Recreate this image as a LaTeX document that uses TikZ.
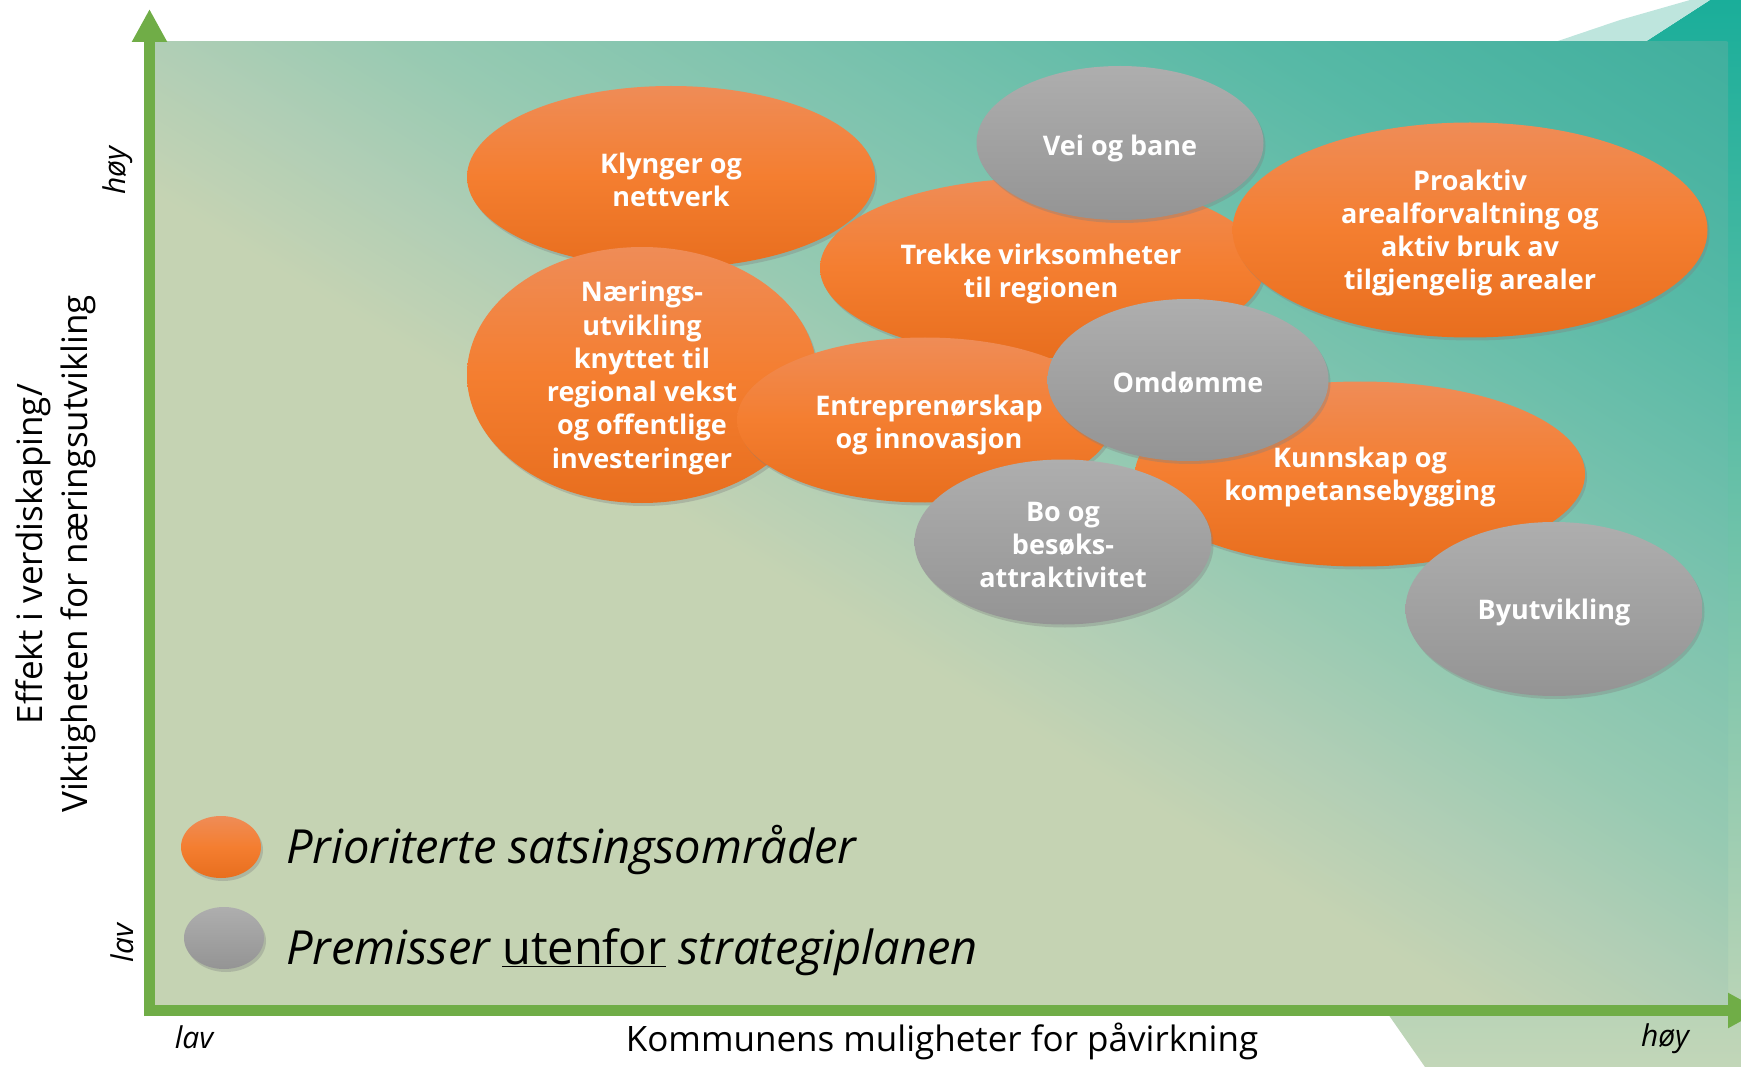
\documentclass[tikz,border=0pt]{standalone}
\usepackage{fontspec}
\setmainfont{Open Sans}
\usetikzlibrary{shapes.geometric,shadows,arrows.meta}

\definecolor{axisgreen}{HTML}{70AD47}
\definecolor{planeA}{HTML}{C5D3B3}
\definecolor{planeB}{HTML}{B0CEB5}
\definecolor{planeC}{HTML}{97CAB2}
\definecolor{planeD}{HTML}{7CC3AE}
\definecolor{planeE}{HTML}{57B9A6}
\definecolor{planeF}{HTML}{40AF9E}
\definecolor{orTop}{HTML}{EF8C57}
\definecolor{orMid}{HTML}{F47E30}
\definecolor{orBot}{HTML}{E86E1E}
\definecolor{grTop}{HTML}{AEAEAE}
\definecolor{grBot}{HTML}{949494}
\definecolor{edgeTeal}{HTML}{1AAE9A}
\definecolor{edgeLight}{HTML}{C2D6B8}
\definecolor{splash}{HTML}{BEE5DD}

\pgfdeclarehorizontalshading{plane}{100bp}{color(0bp)=(planeA); color(46bp)=(planeA); color(50bp)=(planeB); color(54bp)=(planeC); color(60bp)=(planeD); color(67.5bp)=(planeE); color(75bp)=(planeF); color(100bp)=(planeF)}

\begin{document}
\begin{tikzpicture}[x=1pt,y=-1pt]
\tikzstyle{every node}=[inner sep=0pt]
\tikzstyle{blob}=[ellipse, drop shadow={shadow xshift=2pt, shadow yshift=-3pt, opacity=.35}]
\tikzstyle{prio}=[blob, top color=orTop, bottom color=orBot, middle color=orMid]
\tikzstyle{prem}=[blob, top color=grTop, bottom color=grBot]
\tikzstyle{lbl}=[text=white, align=center, yshift=-3pt, font=\bfseries\fontsize{27}{33.3}\selectfont]
\tikzstyle{axis}=[line width=11pt, draw=axisgreen, -{Triangle[width=33pt,length=33pt]}]
\tikzstyle{tick}=[font=\itshape\fontsize{30}{36}\selectfont]
\tikzstyle{axislabel}=[font=\fontsize{35}{45}\selectfont, align=center]
\tikzstyle{legend}=[font=\itshape\fontsize{47}{56}\selectfont, anchor=west]
\useasboundingbox (0,0) rectangle (1741,1067);

% backdrop at the right edge
\shade[top color=edgeTeal, bottom color=edgeLight] (1710,0) -- (1741,0) -- (1741,1067) -- (1425,1067) -- (1388,1014) -- (1645,42) -- cycle;
\fill[splash] (1555,42) -- (1620,20) -- (1690,0) -- (1710,0) -- (1645,42) -- cycle;

% plane, shaded across its diagonal
\begin{scope}
\clip (155,42) rectangle (1728,1005);
\begin{scope}[transform canvas={rotate around={58.5:(941.5,523.5)}}]
\shade[shading=plane] (120,-500) rectangle (1763,1547);
\end{scope}
\end{scope}

% axes
\draw[axis] (149.5,1016) -- (149.5,9);
\draw[axis] (144,1010.5) -- (1761,1010.5);

% areas
\node[prio, minimum width=408pt, minimum height=182pt] (klynger) at (671,177) {};
\node[lbl] (klyngertxt) at (klynger) {Klynger og\\nettverk};
\node[prio, minimum width=350pt, minimum height=256pt] (naering) at (642,375) {};
\node[lbl] (naeringtxt) at (naering) {Nærings-\\utvikling\\knyttet til\\regional vekst\\og offentlige\\investeringer};
\node[prio, minimum width=444pt, minimum height=180pt] (trekke) at (1042,268) {};
\node[lbl] (trekketxt) at (1041,271) {Trekke virksomheter\\til regionen};
\node[prio, minimum width=376pt, minimum height=165pt] (entre) at (925,420) {};
\node[lbl] (entretxt) at (929,422) {Entreprenørskap\\og innovasjon};
\node[prio, minimum width=475pt, minimum height=215pt] (proaktiv) at (1470,230) {};
\node[lbl] (proaktivtxt) at (proaktiv) {Proaktiv\\arealforvaltning og\\aktiv bruk av\\tilgjengelig arealer};
\node[prio, minimum width=450pt, minimum height=185pt] (kunnskap) at (1360,474) {};
\node[lbl] (kunnskaptxt) at (kunnskap) {Kunnskap og\\kompetansebygging};
\node[prem, minimum width=287pt, minimum height=154pt] (vei) at (1120,143) {};
\node[lbl] (veitxt) at (1120,145) {Vei og bane};
\node[prem, minimum width=281pt, minimum height=162pt] (omdomme) at (1188,380) {};
\node[lbl] (omdommetxt) at (omdomme) {Omdømme};
\node[prem, minimum width=297pt, minimum height=165pt] (bo) at (1063,542) {};
\node[lbl] (botxt) at (bo) {Bo og\\besøks-\\attraktivitet};
\node[prem, minimum width=297pt, minimum height=174pt] (byutv) at (1554,609) {};
\node[lbl] (byutvtxt) at (byutv) {Byutvikling};

% legend
\node[prio, minimum width=80pt, minimum height=62pt] (legprio) at (221,847) {};
\node[legend] (legpriotxt) at (286,850) {Prioriterte satsingsområder};
\node[prem, minimum width=80pt, minimum height=62pt] (legprem) at (224,938) {};
\node[legend] (legpremtxt) at (286,952) {Premisser \underline{\upshape utenfor} strategiplanen};

% axis texts
\node[axislabel, rotate=90] (ylabel) at (55.5,554) {Effekt i verdiskaping/\\Viktigheten for næringsutvikling};
\node[axislabel] (xlabel) at (942,1041) {Kommunens muligheter for påvirkning};
\node[tick, rotate=90] (yhigh) at (118,171) {høy};
\node[tick, rotate=90] (ylow) at (122,943) {lav};
\node[tick] (xlow) at (194,1037) {lav};
\node[tick] (xhigh) at (1665,1039) {høy};
\end{tikzpicture}
\end{document}
